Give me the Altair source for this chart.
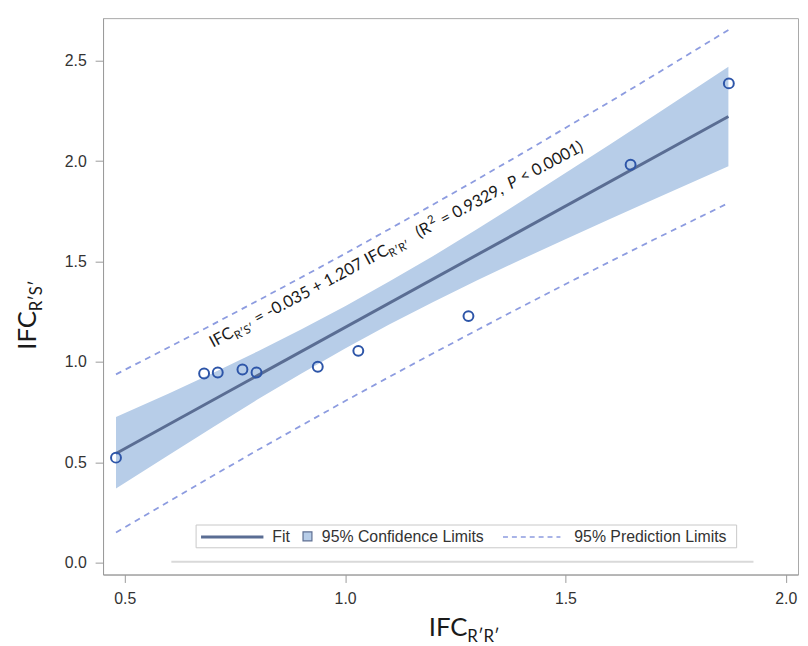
import altair as alt
import pandas as pd

# ---------------- data ----------------
x_obs = [0.48, 0.68, 0.711, 0.767, 0.799, 0.938, 1.030, 1.280, 1.648, 1.871]
y_obs = [0.523, 0.942, 0.947, 0.962, 0.947, 0.976, 1.055, 1.228, 1.982, 2.387]

band_x = [0.48, 0.6, 0.7, 0.8, 0.9, 1.0, 1.1, 1.2, 1.3, 1.4, 1.5, 1.6, 1.7, 1.87]
conf_lo = [0.370, 0.536, 0.675, 0.811, 0.941, 1.067, 1.186, 1.298, 1.406, 1.510, 1.611, 1.710, 1.809, 1.974]
conf_hi = [0.726, 0.842, 0.945, 1.051, 1.161, 1.277, 1.400, 1.528, 1.662, 1.800, 1.941, 2.082, 2.225, 2.470]
pred_lo = [0.150, 0.305, 0.433, 0.559, 0.682, 0.805, 0.925, 1.043, 1.159, 1.274, 1.387, 1.498, 1.608, 1.791]
pred_hi = [0.938, 1.073, 1.187, 1.303, 1.420, 1.539, 1.661, 1.784, 1.909, 2.036, 2.165, 2.294, 2.426, 2.653]

fit_x = [0.48, 1.87]
fit_y = [0.544, 2.222]

x_ticks = [0.5, 1.0, 1.5, 2.0]
y_ticks = [0.0, 0.5, 1.0, 1.5, 2.0, 2.5]
x_domain = [0.4506, 2.028]
y_domain = [-0.059, 2.712]

legend_labels = ["Fit", "95% Confidence Limits", "95% Prediction Limits"]

# ---------------- styling ----------------
BAND = "#b7cde8"
FIT = "#5a6d93"
PRED = "#8d9ce0"
PT = "#2d55a8"
TXT = "#1a1a1a"
TITLE_FONT = "Lato"
TICK_FONT = "Liberation Sans"

W, H = 702, 562

xs = alt.Scale(domain=x_domain, nice=False, zero=False)
ys = alt.Scale(domain=y_domain, nice=False, zero=False)

xaxis = alt.Axis(values=x_ticks, format=".1f", title=None, grid=False, tickSize=8,
                 labelPadding=8, labelFontSize=16, labelFont=TICK_FONT, labelColor="#333333",
                 domainColor="#9a9a9a", tickColor="#9a9a9a")
yaxis = alt.Axis(values=y_ticks, format=".1f", title=None, grid=False, tickSize=8,
                 labelPadding=9, labelFontSize=16, labelFont=TICK_FONT, labelColor="#333333",
                 domainColor="#9a9a9a", tickColor="#9a9a9a")


def X(f="x:Q"):
    return alt.X(f, scale=xs, axis=xaxis)


def Y(f="y:Q"):
    return alt.Y(f, scale=ys, axis=yaxis)


band_df = pd.DataFrame({"x": band_x, "lo": conf_lo, "hi": conf_hi})
pred_df = pd.concat([
    pd.DataFrame({"x": band_x, "y": pred_lo, "which": "lower"}),
    pd.DataFrame({"x": band_x, "y": pred_hi, "which": "upper"}),
])
fit_df = pd.DataFrame({"x": fit_x, "y": fit_y})
obs_df = pd.DataFrame({"x": x_obs, "y": y_obs})

band = alt.Chart(band_df).mark_area(color=BAND, opacity=1).encode(
    x=X(), y=Y("lo:Q"), y2="hi:Q")
pred = alt.Chart(pred_df).mark_line(color=PRED, strokeDash=[6, 5], strokeWidth=1.8).encode(
    x=X(), y=Y(), detail="which:N")
fit = alt.Chart(fit_df).mark_line(color=FIT, strokeWidth=3).encode(x=X(), y=Y())
pts = alt.Chart(obs_df).mark_point(shape="circle", filled=False, size=100, strokeWidth=2,
                                   color=PT, opacity=1).encode(x=X(), y=Y())


def txt(s, x, y, size, font=TITLE_FONT, angle=None, dx=0, dy=0, italic=False,
        color=TXT, baseline="alphabetic"):
    kw = dict(fontSize=size, font=font, color=color, align="left", baseline=baseline,
              dx=dx, dy=dy)
    if angle is not None:
        kw["angle"] = angle
    if italic:
        kw["fontStyle"] = "italic"
    return alt.Chart(pd.DataFrame({"t": [s]})).mark_text(**kw).encode(
        text="t:N", x=alt.value(x), y=alt.value(y))


# regression annotation (rotated)
AX, AY, ANG = 111, 333, 332
FS, SS = 16.5, 11.5
ann = [
    txt("IFC", AX, AY, FS, angle=ANG, dx=0),
    txt("R\u2032S\u2032", AX, AY, SS, angle=ANG, dx=25, dy=4),
    txt("= -0.035 + 1.207 IFC", AX, AY, FS, angle=ANG, dx=51),
    txt("R\u2032R\u2032", AX, AY, SS, angle=ANG, dx=202, dy=4),
    txt("(R", AX, AY, FS, angle=ANG, dx=236),
    txt("2", AX, AY, SS, angle=ANG, dx=252, dy=-7),
    txt("= 0.9329,", AX, AY, FS, angle=ANG, dx=264),
    txt("P", AX, AY, FS, angle=ANG, dx=341, italic=True),
    txt("< 0.0001)", AX, AY, FS, angle=ANG, dx=355),
]

# axis titles with subscripts
titles = [
    txt("IFC", 329, 624, 26),
    txt("R\u2032R\u2032", 329, 624, 17, dx=39, dy=6),
    txt("IFC", -68, 335, 26, angle=270),
    txt("R\u2032S\u2032", -68, 335, 17, angle=270, dx=39, dy=6),
]

one = pd.DataFrame({"k": [0]})

# thin gray line near the bottom of the plot
gline = alt.Chart(one).mark_rule(color="#d9d9d9", strokeWidth=2).encode(
    x=alt.value(69), x2=alt.value(657), y=alt.value(549))

# legend (drawn by hand)
leg_box = alt.Chart(one).mark_rect(fill="white", stroke="#c8c8c8", strokeWidth=1).encode(
    x=alt.value(94), x2=alt.value(640), y=alt.value(512), y2=alt.value(535))
leg_fit = alt.Chart(one).mark_rule(color=FIT, strokeWidth=3).encode(
    x=alt.value(99), x2=alt.value(162), y=alt.value(524))
leg_sw = alt.Chart(one).mark_rect(fill=BAND, stroke="#5e6f92", strokeWidth=1.2).encode(
    x=alt.value(202), x2=alt.value(211), y=alt.value(519), y2=alt.value(528))
leg_pred = alt.Chart(one).mark_rule(color=PRED, strokeWidth=1.5, strokeDash=[5, 4]).encode(
    x=alt.value(404), x2=alt.value(462), y=alt.value(524))
leg_txt = [
    txt(legend_labels[0], 171, 524, 16, font=TICK_FONT, color="#333333", baseline="middle"),
    txt(legend_labels[1], 221, 524, 16, font=TICK_FONT, color="#333333", baseline="middle"),
    txt(legend_labels[2], 476, 524, 16, font=TICK_FONT, color="#333333", baseline="middle"),
]

chart = alt.layer(
    band, fit, pred, pts, gline, leg_box, leg_fit, leg_sw, leg_pred, *leg_txt, *ann, *titles
).properties(
    width=W, height=H,
    padding={"left": 96, "top": 7, "right": 2, "bottom": 74},
    autosize=alt.AutoSizeParams(type="none"),
).configure_view(stroke="#a8a8a8", strokeWidth=1)

chart.save("out.html", embed_options={"renderer": "svg", "actions": False})
